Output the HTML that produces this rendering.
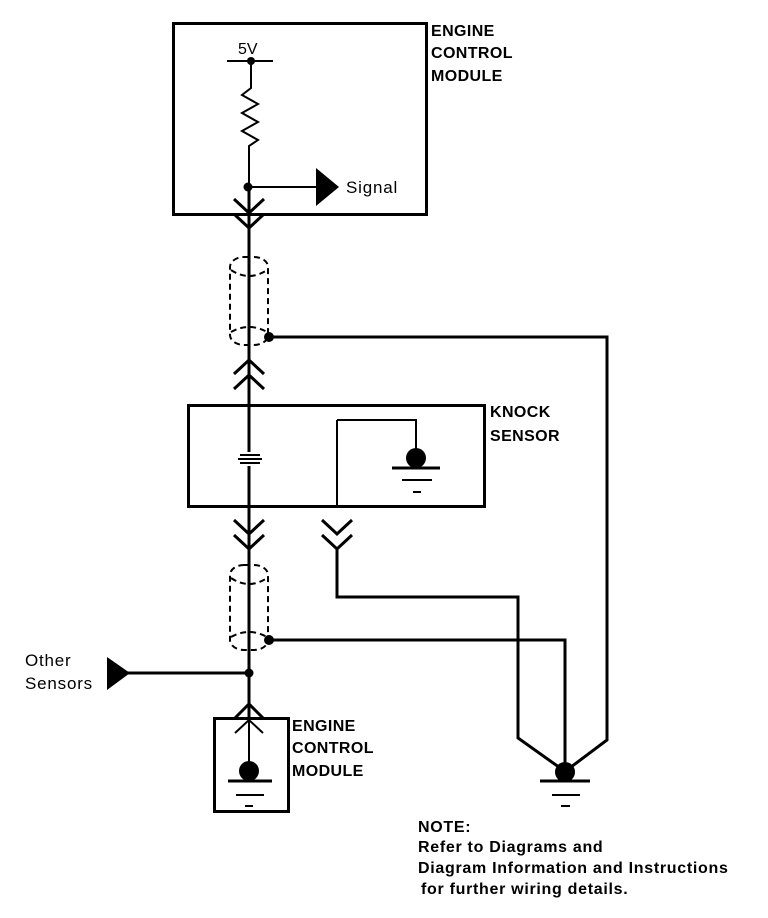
<!DOCTYPE html>
<html><head><style>
html,body{margin:0;padding:0;background:#fff;}
svg{display:block;}
text{font-family:"Liberation Sans",Arial,sans-serif;fill:#000;}
.b{font-weight:bold;font-size:16px;letter-spacing:0.4px;}
.n{font-weight:bold;font-size:16px;letter-spacing:0.7px;}
.r{font-size:17px;letter-spacing:0.8px;}
</style></head><body>
<svg width="768" height="918" viewBox="0 0 768 918" xmlns="http://www.w3.org/2000/svg">
<g fill="none" stroke="#000" stroke-width="3">
<rect x="173.5" y="23.5" width="253" height="191"/>
<rect x="214.5" y="718.5" width="74" height="93"/>
<rect x="188.5" y="405.5" width="296" height="101"/>
</g>
<g fill="none" stroke="#000" stroke-width="2">
<line x1="227" y1="61" x2="273" y2="61"/>
<polyline points="251,61 251,88 242,95 258,104 242,113 258,122 242,131 258,140 249,146 249,187"/>
<line x1="249" y1="187" x2="318" y2="187"/>
</g>
<g stroke="#000" stroke-width="3" fill="none">
<line x1="249" y1="187" x2="249" y2="452"/>
<line x1="249" y1="466" x2="249" y2="720"/>
<polyline points="234,199 249,213 264,199"/>
<polyline points="234,214 249,228 264,214"/>
<polyline points="234,374 249,360 264,374"/>
<polyline points="234,389 249,375 264,389"/>
<polyline points="234,520 249,534 264,520"/>
<polyline points="234,535 249,549 264,535"/>
<polyline points="322,520 337,534 352,520"/>
<polyline points="322,535 337,549 352,535"/>
<polyline points="234,719 249,704 264,719"/>
<polyline points="269,337 607,337 607,740 567,770"/>
<polyline points="337,549 337,597 518,597 518,738 563,770"/>
<polyline points="269,640 565,640 565,772"/>
<line x1="128" y1="673" x2="249" y2="673"/>
<line x1="540" y1="781" x2="590" y2="781"/>
<line x1="228" y1="781" x2="272" y2="781"/>
<line x1="392" y1="468" x2="440" y2="468"/>
</g>
<g stroke="#000" stroke-width="2" fill="none">
<polyline points="235,733 249,720 263,733"/>
<line x1="337" y1="507" x2="337" y2="420"/>
<polyline points="337,420 416,420 416,452"/>
<line x1="240" y1="455" x2="260" y2="455"/>
<line x1="238" y1="459" x2="262" y2="459"/>
<line x1="240" y1="463" x2="260" y2="463"/>
<line x1="402" y1="480" x2="432" y2="480"/>
<line x1="413" y1="492" x2="421" y2="492"/>
<line x1="552" y1="795" x2="580" y2="795"/>
<line x1="561" y1="806" x2="570" y2="806"/>
<line x1="236" y1="795" x2="264" y2="795"/>
<line x1="245" y1="806" x2="253" y2="806"/>
<line x1="249" y1="720" x2="249" y2="762"/>
</g>
<g stroke="#000" stroke-width="2" fill="none" stroke-dasharray="6,4">
<rect x="230" y="257" width="38" height="88" rx="14" ry="10"/>
<path d="M231,270 Q249,282 267,270"/>
<path d="M231,332 Q249,322 267,332"/>
<rect x="230" y="565" width="38" height="85" rx="14" ry="10"/>
<path d="M231,578 Q249,590 267,578"/>
<path d="M231,637 Q249,627 267,637"/>
</g>
<g fill="#000">
<circle cx="251" cy="61" r="4"/>
<circle cx="248" cy="187" r="4.5"/>
<circle cx="269" cy="337" r="5"/>
<circle cx="269" cy="640" r="5"/>
<circle cx="249" cy="673" r="4.5"/>
<circle cx="416" cy="458" r="10"/>
<circle cx="565" cy="772" r="10"/>
<circle cx="249" cy="771" r="10"/>
<polygon points="316,168 339,187 316,206"/>
<polygon points="107,657 130,673 107,690"/>
</g>
<text class="r" x="238" y="54" style="font-size:16px;letter-spacing:0">5V</text>
<text class="r" x="346" y="193">Signal</text>
<text class="r" x="25" y="666">Other</text>
<text class="r" x="25" y="689">Sensors</text>
<text class="b" x="431" y="36">ENGINE</text>
<text class="b" x="431" y="58">CONTROL</text>
<text class="b" x="431" y="81">MODULE</text>
<text class="b" x="490" y="417">KNOCK</text>
<text class="b" x="490" y="441">SENSOR</text>
<text class="b" x="292" y="731">ENGINE</text>
<text class="b" x="292" y="753">CONTROL</text>
<text class="b" x="292" y="776">MODULE</text>
<text class="n" x="418" y="832">NOTE:</text>
<text class="n" x="418" y="852">Refer to Diagrams and</text>
<text class="n" x="418" y="873">Diagram Information and Instructions</text>
<text class="n" x="421" y="894">for further wiring details.</text>
</svg>
</body></html>
